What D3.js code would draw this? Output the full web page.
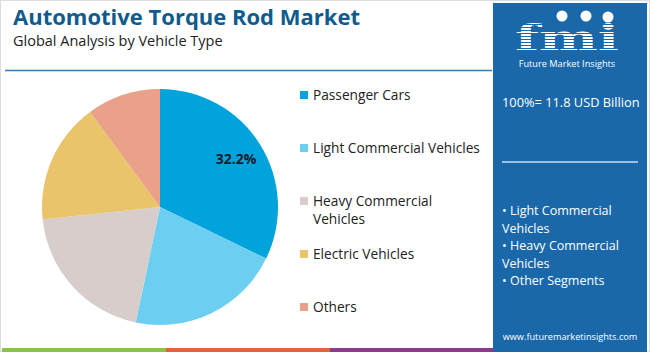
<!DOCTYPE html>
<html>
<head>
<meta charset="utf-8">
<script src="https://cdn.jsdelivr.net/npm/d3@7"></script>
<style>
  body { margin: 0; background: #fff; }
  svg { display: block; font-family: 'Open Sans', 'DejaVu Sans', sans-serif; }
</style>
</head>
<body>
<script>
// data
const segments = ["Passenger Cars", "Light Commercial Vehicles", "Heavy Commercial Vehicles", "Electric Vehicles", "Others"];
const shares = [32.2, 21.1, 20.0, 16.6, 10.1];
const sliceColors = ["#00a3db", "#6ccef1", "#d7cdca", "#e9c46b", "#e9a189"];
const legendLines = [["Passenger Cars"], ["Light Commercial Vehicles"], ["Heavy Commercial", "Vehicles"], ["Electric Vehicles"], ["Others"]];
const sidebarLines = ["• Light Commercial", "Vehicles", "• Heavy Commercial", "Vehicles", "• Other Segments"];
const marketSize = "100%= 11.8 USD Billion";

const width = 650, height = 352;
const svg = d3.select("body").append("svg")
  .attr("width", width)
  .attr("height", height);

// frame
svg.append("rect")
  .attr("x", 0.5).attr("y", 0.5)
  .attr("width", width - 1).attr("height", height - 1)
  .attr("fill", "none").attr("stroke", "#dddddd");

// titles
svg.append("text")
  .attr("x", 13).attr("y", 25)
  .attr("font-size", 22)
  .attr("font-weight", "bold")
  .attr("fill", "#0f5b8e")
  .text("Automotive Torque Rod Market");

svg.append("text")
  .attr("x", 13).attr("y", 46)
  .attr("font-size", 14.5)
  .attr("fill", "#222")
  .text("Global Analysis by Vehicle Type");

svg.append("line")
  .attr("x1", 5).attr("x2", 492)
  .attr("y1", 70.5).attr("y2", 70.5)
  .attr("stroke", "#3a78b0").attr("stroke-width", 1.5);

// pie
const cx = 160, cy = 207, r = 118;
const pie = d3.pie().sort(null).value(d => d);
const arc = d3.arc().innerRadius(0).outerRadius(r);
const labelArc = d3.arc().innerRadius(r * 0.76).outerRadius(r * 0.76);

const pieG = svg.append("g").attr("transform", `translate(${cx},${cy})`);
pieG.selectAll("path")
  .data(pie(shares))
  .join("path")
  .attr("d", arc)
  .attr("fill", (d, i) => sliceColors[i]);

pieG.selectAll("text")
  .data(pie(shares).filter(d => d.index === 0))
  .join("text")
  .attr("transform", d => `translate(${labelArc.centroid(d)})`)
  .attr("text-anchor", "middle")
  .attr("dy", "0.35em")
  .attr("font-size", 14)
  .attr("font-weight", "bold")
  .attr("fill", "#1b1b2b")
  .text(d => d.data.toFixed(1) + "%");

// legend
const legendY = [95, 148, 201, 254, 307];
const legend = svg.append("g");
segments.forEach((s, i) => {
  legend.append("rect")
    .attr("x", 300).attr("y", legendY[i] - 4)
    .attr("width", 8).attr("height", 8)
    .attr("fill", sliceColors[i]);
  legendLines[i].forEach((line, j) => {
    legend.append("text")
      .attr("x", 313).attr("y", legendY[i] + j * 18)
      .attr("dy", "0.35em")
      .attr("font-size", 13.7)
      .attr("fill", "#222")
      .text(line);
  });
});

// bottom colour strip
const stripColors = ["#8bc151", "#e0663a", "#8e3a8e"];
const stripX = d3.scaleBand().domain(d3.range(3)).range([2, 494]);
svg.selectAll(".strip")
  .data(stripColors)
  .join("rect")
  .attr("class", "strip")
  .attr("x", (d, i) => stripX(i))
  .attr("y", 348)
  .attr("width", stripX.bandwidth())
  .attr("height", 4)
  .attr("fill", d => d);

// side panel
const panel = svg.append("g");
panel.append("rect")
  .attr("x", 493).attr("y", 3)
  .attr("width", 154).attr("height", 349)
  .attr("fill", "#1a68a9");

// logo
const logo = panel.append("g");
logo.append("text")
  .attr("x", 567).attr("y", 50)
  .attr("text-anchor", "middle")
  .attr("font-family", "'DejaVu Serif', serif")
  .attr("font-weight", "bold")
  .attr("font-size", 36)
  .attr("fill", "#fff")
  .attr("textLength", 104)
  .attr("lengthAdjust", "spacingAndGlyphs")
  .text("fmi");
// horizontal stripes across the letters
d3.range(21, 51, 3).forEach(y => {
  logo.append("line")
    .attr("x1", 512).attr("x2", 624)
    .attr("y1", y + 0.5).attr("y2", y + 0.5)
    .attr("stroke", "#1a68a9").attr("stroke-width", 1);
});
[[562, 16], [586, 16], [608, 17]].forEach(([x, y]) => {
  logo.append("circle")
    .attr("cx", x).attr("cy", y).attr("r", 5.5)
    .attr("fill", "#fff");
});
logo.append("text")
  .attr("x", 567).attr("y", 67)
  .attr("text-anchor", "middle")
  .attr("font-size", 9.2)
  .attr("fill", "#fff")
  .text("Future Market Insights");

panel.append("text")
  .attr("x", 502).attr("y", 103)
  .attr("dy", "0.35em")
  .attr("font-size", 12.8)
  .attr("fill", "#fff")
  .text(marketSize);

panel.append("line")
  .attr("x1", 502).attr("x2", 638)
  .attr("y1", 162).attr("y2", 162)
  .attr("stroke", "#c9dcee").attr("stroke-width", 1.5);

sidebarLines.forEach((t, i) => {
  panel.append("text")
    .attr("x", 502).attr("y", 211 + i * 17.5)
    .attr("dy", "0.35em")
    .attr("font-size", 12.5)
    .attr("fill", "#fff")
    .text(t);
});

panel.append("text")
  .attr("x", 570).attr("y", 337)
  .attr("dy", "0.35em")
  .attr("text-anchor", "middle")
  .attr("font-size", 9.2)
  .attr("fill", "#fff")
  .text("www.futuremarketinsights.com");
</script>
</body>
</html>
